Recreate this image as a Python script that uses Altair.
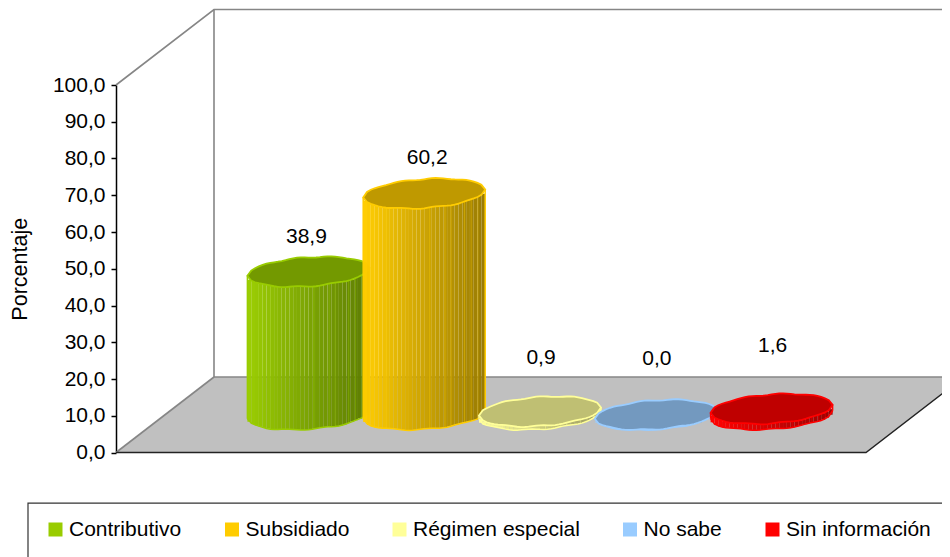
import math
import altair as alt
import pandas as pd

categories = ["Contributivo", "Subsidiado", "Régimen especial", "No sabe", "Sin información"]
values = [38.9, 60.2, 0.9, 0.0, 1.6]
labels = ["38,9", "60,2", "0,9", "0,0", "1,6"]
colors = ["#99CC00", "#FFCC00", "#FFFF99", "#99CCFF", "#FF0000"]
y_ticks = [0, 10, 20, 30, 40, 50, 60, 70, 80, 90, 100]

FONT = "Liberation Sans"
FS = 21
PXY = 100 / 367.5      # value units per pixel
DX, DY = 98.0, 75.5 * PXY   # depth shift of the 3-D box
XMAX = 750.0
RX, RY = 61.0, 14.5 * PXY
TILT = 4.0 * PXY
STEP_SLOT = 115.8
MID = 375 + DX / 2
LIFT = [35, 36, 53, 56, 63]      # label lift above cylinder top, px
LABEL_DX = [-2, 3, 1, 1, 1]      # label shift, px
FACET_LINES = [.05, .09, .13, .19, .545, .67, .72, .83, .885, .94]


def shade(hexc, k):
    r, g, b = [int(hexc[i:i + 2], 16) for i in (1, 3, 5)]
    return "#%02x%02x%02x" % (round(r * k), round(g * k), round(b * k))


x_scale = alt.Scale(domain=[0, XMAX], range=[108, 858], clamp=False, nice=False, zero=False)
y_scale = alt.Scale(domain=[0, 100], range=[444.5, 77], nice=False, zero=False)
X = alt.X("x:Q", scale=x_scale, axis=None)
Y = alt.Y("y:Q", scale=y_scale,
          axis=alt.Axis(values=y_ticks, offset=-108, labelExpr="replace(format(datum.value,'.1f'),'.',',')",
                        title="Porcentaje", titleFont=FONT, titleFontSize=21.5, titleFontWeight="normal",
                        labelFont=FONT, labelFontSize=FS, labelColor="black", titleColor="black",
                        domainColor="#000000", tickColor="#000000", domainWidth=1.5, tickWidth=1.5,
                        tickSize=5, grid=False, labelPadding=6, titlePadding=21, ticks=True))
Y_plain = Y


def seg(points, color, width):
    df = pd.DataFrame({"x": [p[0] for p in points], "y": [p[1] for p in points], "o": range(len(points))})
    return alt.Chart(df).mark_line(color=color, strokeWidth=width, clip=False).encode(
        x=X, y=Y_plain, order="o:Q")


floor_df = pd.DataFrame({
    "x": [0, DX, XMAX, XMAX + DX],
    "y": [0, DY, DY, DY],
    "y2": [0, 0, 0, DY],
})
floor = alt.Chart(floor_df).mark_area(color="#C0C0C0", opacity=1).encode(
    x=X, y=Y_plain, y2="y2:Q")

GREY = "#868686"
walls = [
    seg([(0, 100), (DX, 100 + DY), (XMAX + 2 * DX, 100 + DY)], GREY, 1.6),
    seg([(DX, 100 + DY), (DX, DY), (XMAX + 2 * DX, DY)], GREY, 1.6),
    seg([(0, 0), (DX, DY)], GREY, 1.6),
    seg([(0, 0), (XMAX, 0), (XMAX + DX, DY)], "#222222", 1.4),
]

legend_df = pd.DataFrame({"x": [MID] * 5, "y": [DY / 2] * 5, "serie": categories})
legend_layer = alt.Chart(legend_df).mark_square(size=1, opacity=1).encode(
    x=X, y=Y_plain,
    color=alt.Color("serie:N",
                    scale=alt.Scale(domain=categories, range=colors),
                    legend=alt.Legend(orient="none", legendX=37, legendY=511, direction="horizontal",
                                      columns=5, title=None, gridAlign="none", columnPadding=39.5,
                                      symbolType="square", symbolSize=196, symbolStrokeWidth=0,
                                      symbolOpacity=1, labelFont=FONT, labelFontSize=FS,
                                      labelColor="black", labelOffset=3, padding=0, labelLimit=300)))

box_df = pd.DataFrame({"x": [-88.0], "x2": [XMAX + 200], "y": [-13.8], "y2": [-40.0]})
box = alt.Chart(box_df).mark_rect(fill="white", stroke="#333333", strokeWidth=1.2).encode(
    x=alt.X("x:Q", scale=x_scale, axis=None), x2="x2:Q", y=Y, y2="y2:Q")


def wob(x):
    return 0.6 * PXY * math.sin(x / 5.5)


def arc(xr):
    return RY * math.sqrt(max(0.0, 1 - (xr / RX) ** 2))


def cylinder(i):
    cx = MID + (i - 2) * STEP_SLOT
    base = DY / 2
    top = base + values[i]
    col = colors[i]
    rows = []
    n = 32
    w = 2 * RX / n
    for k in range(n):
        x0 = -RX + k * w
        x1 = x0 + w
        xm = (x0 + x1) / 2
        t = k / (n - 1)
        tilt = TILT * xm / RX
        rows.append({"x": cx + x0, "x2": cx + x1,
                     "y": top + tilt - arc(xm) + wob(cx + xm),
                     "y2": base + tilt - arc(xm) + wob(cx + xm + 9),
                     "c": shade(col, 1.0 - 0.40 * t)})
    body = alt.Chart(pd.DataFrame(rows)).mark_rect(opacity=0.985).encode(
        x=X, x2="x2:Q", y=Y_plain, y2="y2:Q", color=alt.Color("c:N", scale=None, legend=None))

    facets = []
    for f in FACET_LINES:
        xr = -RX + f * 2 * RX
        tilt = TILT * xr / RX
        facets.append({"x": cx + xr, "y": top + tilt - arc(xr), "y2": base + tilt - arc(xr)})
    fl = alt.Chart(pd.DataFrame(facets)).mark_rule(color=col, strokeWidth=1, opacity=0.4).encode(
        x=X, y=Y_plain, y2="y2:Q")

    sides = alt.Chart(pd.DataFrame({"x": [cx - RX, cx + RX],
                                    "y": [top - TILT, top + TILT],
                                    "y2": [base - TILT, base + TILT]})).mark_rule(
        color=col, strokeWidth=1.5).encode(x=X, y=Y_plain, y2="y2:Q")

    bottom_pts = []
    for k in range(n + 1):
        xr = -RX + k * w
        bottom_pts.append((cx + xr, base + TILT * xr / RX - arc(xr) + wob(cx + xr + 9)))
    bottom = seg(bottom_pts, col, 1.5)

    ell = []
    for k in range(n + 1):
        xr = -RX + k * w
        a = arc(xr)
        wb = wob(cx + xr) * (a / RY)
        c = top + TILT * xr / RX
        ell.append({"x": cx + xr, "y": c + a + wb, "y2": c - a + wb})
    cap = alt.Chart(pd.DataFrame(ell)).mark_area(
        fill=shade(col, 0.75), stroke=col, strokeWidth=1.8, opacity=1).encode(
        x=X, y=Y_plain, y2="y2:Q")
    return [body, fl, sides, bottom, cap]


layers = [box, floor] + walls + [legend_layer]
for i in range(5):
    layers += cylinder(i)

text_df = pd.DataFrame({
    "x": [MID + (i - 2) * STEP_SLOT + LABEL_DX[i] for i in range(5)],
    "y": [DY / 2 + values[i] + LIFT[i] * PXY for i in range(5)],
    "t": labels,
})
text = alt.Chart(text_df).mark_text(font=FONT, fontSize=FS, color="black", baseline="middle", align="center").encode(
    x=X, y=Y_plain, text="t:N")
layers.append(text)

chart = alt.layer(*layers).resolve_scale(color="independent").properties(
    width=934, height=549, padding=0,
    autosize=alt.AutoSizeParams(type="none", contains="padding"),
).configure_view(stroke=None)

chart.save("out.html", embed_options={"renderer": "svg", "actions": False})
